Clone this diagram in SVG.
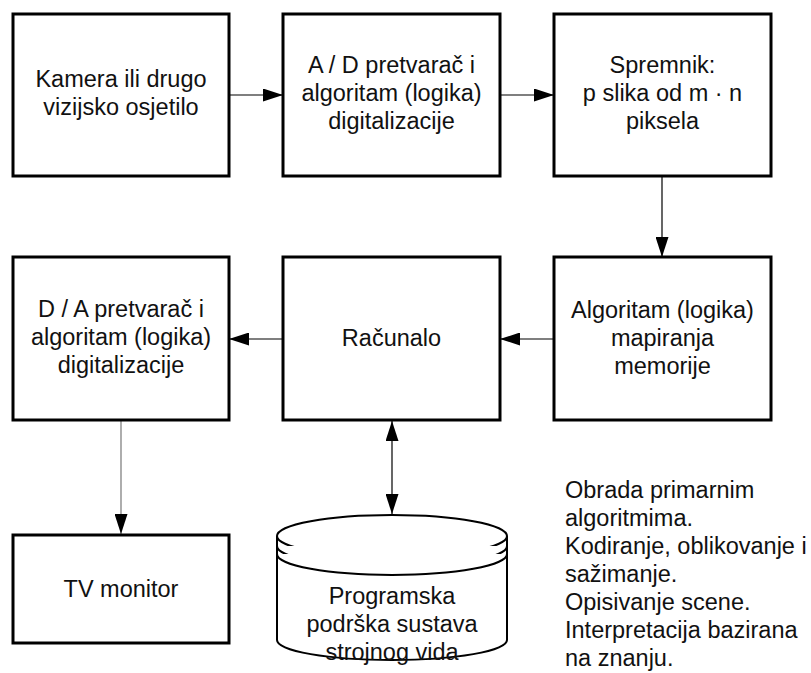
<svg xmlns="http://www.w3.org/2000/svg" width="811" height="673" viewBox="0 0 811 673">
<style>
.box{fill:#fff;stroke:#000;stroke-width:3}
.cyl{fill:#fff;stroke:#000;stroke-width:2}
.t{font-family:"Liberation Sans",Arial,sans-serif;font-size:23.5px;fill:#111;text-anchor:middle}
.tl{font-family:"Liberation Sans",Arial,sans-serif;font-size:23.5px;fill:#111}
.c{fill:none;stroke:#000;stroke-width:1.2}
</style>
<defs>
<marker id="ah" viewBox="0 0 20 13" refX="20" refY="6.5" markerWidth="20" markerHeight="13" markerUnits="userSpaceOnUse" orient="auto-start-reverse">
<path d="M0,0 L20,6.5 L0,13 Z" fill="#000"/>
</marker>
</defs>
<rect width="811" height="673" fill="#fff"/>
<g id="connectors">
<line class="c" x1="229" y1="95" x2="283" y2="95" marker-end="url(#ah)"/>
<line class="c" x1="500" y1="95" x2="554" y2="95" marker-end="url(#ah)"/>
<line class="c" x1="662" y1="176" x2="662" y2="257" marker-end="url(#ah)"/>
<line class="c" x1="554" y1="339" x2="500" y2="339" marker-end="url(#ah)"/>
<line class="c" x1="283" y1="339" x2="229" y2="339" marker-end="url(#ah)"/>
<line class="c" x1="121" y1="420" x2="121" y2="534" stroke="#777" style="stroke:#777" marker-end="url(#ah)"/>
<line class="c" x1="392" y1="421" x2="392" y2="514" marker-start="url(#ah)" marker-end="url(#ah)"/>
</g>
<g id="kamera">
<rect class="box" x="13" y="14" width="216" height="162"/>
<text class="t" x="121" y="87">Kamera ili drugo</text>
<text class="t" x="121" y="115">vizijsko osjetilo</text>
</g>
<g id="ad">
<rect class="box" x="283" y="14" width="217" height="162"/>
<text class="t" x="391.5" y="73">A / D pretvarač i</text>
<text class="t" x="391.5" y="101">algoritam (logika)</text>
<text class="t" x="391.5" y="129">digitalizacije</text>
</g>
<g id="spremnik">
<rect class="box" x="554" y="14" width="217" height="162"/>
<text class="t" x="662.5" y="73">Spremnik:</text>
<text class="t" x="662.5" y="101">p slika od m · n</text>
<text class="t" x="662.5" y="129">piksela</text>
</g>
<g id="da">
<rect class="box" x="13" y="257" width="216" height="163"/>
<text class="t" x="121" y="317">D / A pretvarač i</text>
<text class="t" x="121" y="345">algoritam (logika)</text>
<text class="t" x="121" y="373">digitalizacije</text>
</g>
<g id="racunalo">
<rect class="box" x="283" y="257" width="217" height="163"/>
<text class="t" x="391.5" y="346">Računalo</text>
</g>
<g id="mapiranje">
<rect class="box" x="554" y="257" width="217" height="163"/>
<text class="t" x="662.5" y="318">Algoritam (logika)</text>
<text class="t" x="662.5" y="346">mapiranja</text>
<text class="t" x="662.5" y="374">memorije</text>
</g>
<g id="tv">
<rect class="box" x="13" y="535" width="216" height="108"/>
<text class="t" x="121" y="597">TV monitor</text>
</g>
<g id="programska">
<path class="cyl" d="M277,536 A115,21 0 0 1 507,536 L507,640 A115,20 0 0 1 277,640 Z"/>
<path class="cyl" d="M277,536 A115,21 0 0 0 507,536"/>
<path class="cyl" d="M277,546 A115,21 0 0 0 507,546"/>
<path class="cyl" d="M277,554 A115,21 0 0 0 507,554"/>
<text class="t" x="392" y="604">Programska</text>
<text class="t" x="392" y="632">podrška sustava</text>
<text class="t" x="392" y="660">strojnog vida</text>
</g>
<g id="opis">
<text class="tl" x="565" y="498">Obrada primarnim</text>
<text class="tl" x="565" y="526">algoritmima.</text>
<text class="tl" x="565" y="554">Kodiranje, oblikovanje i</text>
<text class="tl" x="565" y="582">sažimanje.</text>
<text class="tl" x="565" y="610">Opisivanje scene.</text>
<text class="tl" x="565" y="638">Interpretacija bazirana</text>
<text class="tl" x="565" y="666">na znanju.</text>
</g>
</svg>
